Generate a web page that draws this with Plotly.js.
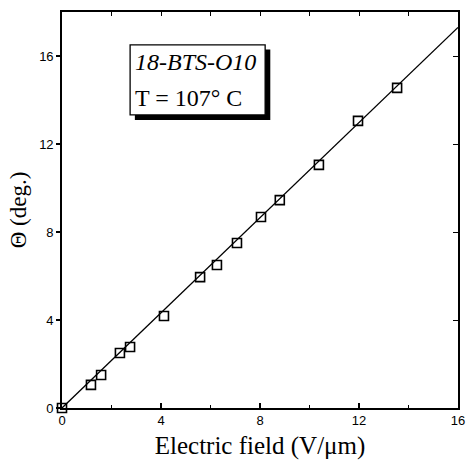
<!DOCTYPE html>
<html><head><meta charset="utf-8">
<script src="https://cdn.plot.ly/plotly-3.0.1.min.js"></script>
<style>body{margin:0;background:#fff}#c{width:466px;height:462px}</style>
</head><body><div id="c"></div>
<script>
const fieldX = [0, 1.17, 1.58, 2.34, 2.75, 4.12, 5.58, 6.26, 7.07, 8.04, 8.8, 10.38, 11.96, 13.54];
const thetaY = [0, 1.05, 1.5, 2.5, 2.77, 4.18, 5.95, 6.5, 7.5, 8.68, 9.45, 11.05, 13.05, 14.55];
const fitX = [0, 16];
const fitY = [0, 17.3];
const xTicks = [0, 4, 8, 12, 16];
const yTicks = [0, 4, 8, 12, 16];

const tickFont = {family: 'Liberation Sans, Arial', size: 13, color: '#000'};
const serif = 'Liberation Serif, Times New Roman, serif';

const traces = [
  {x: fitX, y: fitY, mode: 'lines', line: {color: '#000', width: 1.3}, hoverinfo: 'skip'},
  {x: fieldX, y: thetaY, mode: 'markers', cliponaxis: false,
   marker: {symbol: 'square-open', size: 9, color: '#000', line: {width: 1.6, color: '#000'}}},
  {x: [0], y: [0], xaxis: 'x2', yaxis: 'y2', mode: 'markers', marker: {opacity: 0}, hoverinfo: 'skip'}
];

const layout = {
  width: 466, height: 462,
  margin: {l: 62, r: 8, t: 12, b: 54},
  paper_bgcolor: '#fff', plot_bgcolor: '#fff',
  showlegend: false,
  xaxis: {range: [0, 16], tickvals: xTicks, ticktext: xTicks.map(String),
    ticks: 'inside', ticklen: 5, tickwidth: 1.2, tickcolor: '#000',
    minor: {dtick: 2, ticks: 'inside', ticklen: 3, tickcolor: '#000'},
    showline: true, linecolor: '#000', linewidth: 1.8, showgrid: false, zeroline: false,
    tickfont: tickFont,
    title: {text: 'Electric field (V/\u03bcm)', font: {family: serif, size: 25, color: '#000'}, standoff: 9}},
  yaxis: {range: [0, 18], tickvals: yTicks, ticktext: yTicks.map(String),
    ticks: 'outside', ticklen: 4, tickwidth: 1.2, tickcolor: '#000',
    showline: true, linecolor: '#000', linewidth: 1.8, showgrid: false, zeroline: false,
    tickfont: tickFont,
    title: {text: '\u0398 (deg.)', font: {family: serif, size: 23, color: '#000'}, standoff: 6}},
  xaxis2: {overlaying: 'x', side: 'top', range: [0, 16], dtick: 2, tick0: 0, ticks: 'inside', ticklen: 4,
    tickcolor: '#000', showticklabels: false, showline: true, linecolor: '#000', linewidth: 1.8,
    showgrid: false, zeroline: false},
  yaxis2: {overlaying: 'y', side: 'right', range: [0, 18], tickvals: yTicks, ticks: 'inside', ticklen: 5,
    tickcolor: '#000', showticklabels: false, showline: true, linecolor: '#000', linewidth: 1.8,
    showgrid: false, zeroline: false},
  shapes: [
    {type: 'rect', xref: 'paper', yref: 'paper', x0: 0.184, x1: 0.526, y0: 0.727, y1: 0.905,
     fillcolor: '#000', line: {width: 0}},
    {type: 'rect', xref: 'paper', yref: 'paper', x0: 0.172, x1: 0.513, y0: 0.740, y1: 0.917,
     fillcolor: '#fff', line: {color: '#000', width: 1.3}}
  ],
  annotations: [
    {xref: 'paper', yref: 'paper', x: 0.180, y: 0.874, xanchor: 'left', yanchor: 'middle',
     text: '<i>18-BTS-O10</i>', showarrow: false,
     font: {family: serif, size: 24, color: '#000'}},
    {xref: 'paper', yref: 'paper', x: 0.180, y: 0.784, xanchor: 'left', yanchor: 'middle',
     text: 'T = 107\u00b0 C', showarrow: false,
     font: {family: serif, size: 24, color: '#000'}}
  ]
};
Plotly.newPlot('c', traces, layout, {staticPlot: true});
</script></body></html>
